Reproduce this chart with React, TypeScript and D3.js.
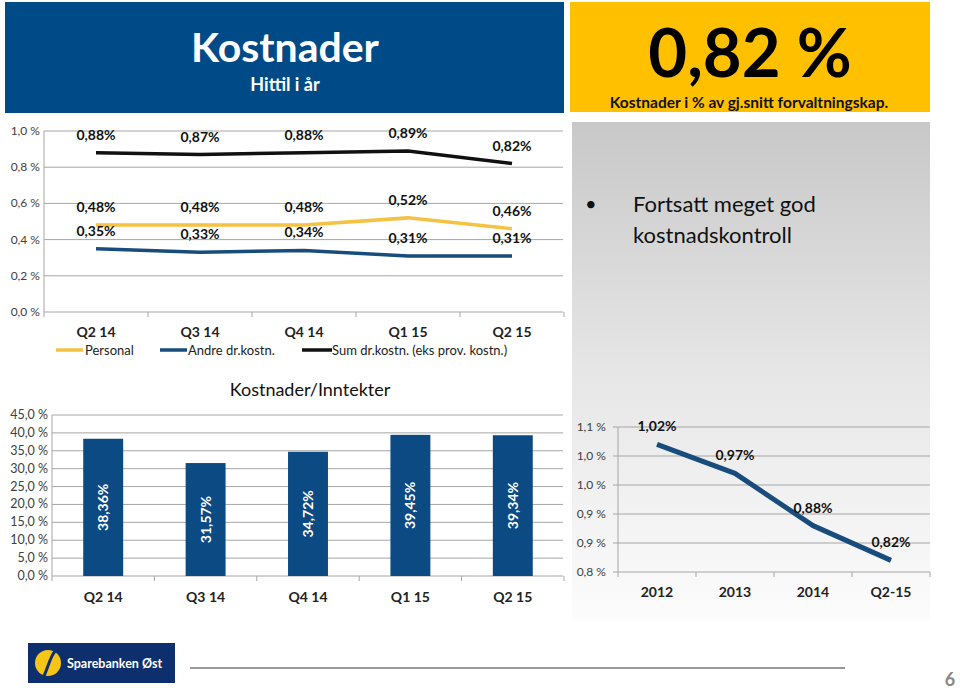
import React from "react";
import * as d3 from "d3";

const quarters = ["Q2 14", "Q3 14", "Q4 14", "Q1 15", "Q2 15"];
const personal = [0.48, 0.48, 0.48, 0.52, 0.46];
const andre = [0.35, 0.33, 0.34, 0.31, 0.31];
const sumKost = [0.88, 0.87, 0.88, 0.89, 0.82];
const topTicks = [0, 0.2, 0.4, 0.6, 0.8, 1.0];

const ratio = [38.36, 31.57, 34.72, 39.45, 39.34];
const barTicks = [0, 5, 10, 15, 20, 25, 30, 35, 40, 45];

const years = ["2012", "2013", "2014", "Q2-15"];
const yearly = [1.02, 0.97, 0.88, 0.82];
const rightTicks = [0.8, 0.85, 0.9, 0.95, 1.0, 1.05];
const rightTickLabels = ["0,8 %", "0,9 %", "0,9 %", "1,0 %", "1,0 %", "1,1 %"];

const FONT = "Lato, 'Open Sans', sans-serif";
const NAVY = "#0b4a82";
const YEL = "#f5c242";
const BLUE = "#174c7c";

const pct2 = (v: number) => v.toFixed(2).replace(".", ",") + "%";
const pct1s = (v: number) => v.toFixed(1).replace(".", ",") + " %";

export default function App() {
  // Top line chart
  const xTop = d3.scaleBand<string>().domain(quarters).range([44, 564]);
  const yTop = d3.scaleLinear().domain([0, 1]).range([312, 131]);
  const cx = (c: string) => (xTop(c) as number) + xTop.bandwidth() / 2;
  const lineTop = (vals: number[]) =>
    d3.line<number>().x((_, i) => cx(quarters[i])).y((v) => yTop(v))(vals) as string;
  const topSeries = [
    { vals: sumKost, color: "#111" },
    { vals: personal, color: YEL },
    { vals: andre, color: BLUE },
  ];

  // Bar chart
  const xBar = d3.scaleBand<string>().domain(quarters).range([52, 564]);
  const yBar = d3.scaleLinear().domain([0, 45]).range([576, 415]);
  const bw = xBar.bandwidth() * 0.39;

  // Right line chart
  const xR = d3.scaleBand<string>().domain(years).range([618, 930]);
  const yR = d3.scaleLinear().domain([0.8, 1.05]).range([572, 427]);
  const cxR = (c: string) => (xR(c) as number) + xR.bandwidth() / 2;
  const lineR = d3
    .line<number>()
    .x((_, i) => cxR(years[i]))
    .y((v) => yR(v))(yearly) as string;

  return (
    <svg width={960} height={691} style={{ position: "absolute", left: 0, top: 0, background: "#fff" }} fontFamily={FONT}>
      <defs>
        <linearGradient id="panel" x1="0" y1="0" x2="0" y2="1">
          <stop offset="0" stopColor="#c8c8c8" />
          <stop offset="0.5" stopColor="#e6e6e6" />
          <stop offset="1" stopColor="#fcfcfc" />
        </linearGradient>
      </defs>

      {/* Header banners */}
      <rect x={5} y={2} width={559} height={111} fill="#004b87" />
      <text x={285} y={62} textAnchor="middle" fill="#fff" fontSize={41} fontWeight="bold">Kostnader</text>
      <text x={285} y={91} textAnchor="middle" fill="#fff" fontSize={18} fontWeight="bold">Hittil i år</text>

      <rect x={570} y={2} width={360} height={110} fill="#ffc000" />
      <text x={750} y={77} textAnchor="middle" fill="#000" fontSize={67} fontWeight="bold">0,82 %</text>
      <text x={749} y={108} textAnchor="middle" fill="#111" fontSize={15.5} fontWeight="bold">Kostnader i % av gj.snitt forvaltningskap.</text>

      {/* Right gray panel */}
      <rect x={572} y={122} width={358} height={498} fill="url(#panel)" />
      <text x={585} y={211} fill="#111" fontSize={20}>•</text>
      <text x={633} y={212} fill="#111" fontSize={22}>Fortsatt meget god</text>
      <text x={633} y={243} fill="#111" fontSize={22}>kostnadskontroll</text>

      {/* Top line chart */}
      <g>
        {topTicks.map((t) => (
          <g key={t}>
            <line x1={44} x2={563} y1={yTop(t)} y2={yTop(t)} stroke="#a6a6a6" strokeWidth={1} />
            <text x={40} y={yTop(t) + 4} textAnchor="end" fontSize={12} fill="#404040">{pct1s(t)}</text>
          </g>
        ))}
        <line x1={44} x2={44} y1={131} y2={312} stroke="#a6a6a6" />
        {[...quarters.map((q) => xTop(q) as number), 564].map((x, i) => (
          <line key={i} x1={x} x2={x} y1={312} y2={317} stroke="#a6a6a6" />
        ))}
        {topSeries.map((s, si) => (
          <path key={si} d={lineTop(s.vals)} fill="none" stroke={s.color} strokeWidth={3.5} />
        ))}
        {topSeries.map((s, si) =>
          s.vals.map((v, i) => (
            <text key={si + "-" + i} x={cx(quarters[i])} y={yTop(v) - 13} textAnchor="middle" fontSize={14} fontWeight="bold" fill="#111">
              {pct2(v)}
            </text>
          ))
        )}
        {quarters.map((q) => (
          <text key={q} x={cx(q)} y={337} textAnchor="middle" fontSize={14} fontWeight="bold" fill="#222">{q}</text>
        ))}
        {/* legend */}
        <line x1={56} x2={83} y1={350} y2={350} stroke={YEL} strokeWidth={3.5} />
        <text x={85} y={355} fontSize={13} fill="#222">Personal</text>
        <line x1={160} x2={187} y1={350} y2={350} stroke={BLUE} strokeWidth={3.5} />
        <text x={188} y={355} fontSize={13} fill="#222">Andre dr.kostn.</text>
        <line x1={302} x2={332} y1={350} y2={350} stroke="#111" strokeWidth={3.5} />
        <text x={332} y={355} fontSize={13} fill="#222">Sum dr.kostn. (eks prov. kostn.)</text>
      </g>

      {/* Bar chart */}
      <g>
        <text x={310} y={396} textAnchor="middle" fontSize={18} fill="#111">Kostnader/Inntekter</text>
        {barTicks.map((t) => (
          <g key={t}>
            <line x1={52} x2={563} y1={yBar(t)} y2={yBar(t)} stroke="#a6a6a6" />
            <text x={48} y={yBar(t) + 4} textAnchor="end" fontSize={12.5} fill="#404040">{pct1s(t)}</text>
          </g>
        ))}
        <line x1={52} x2={52} y1={415} y2={576} stroke="#a6a6a6" />
        {[...quarters.map((q) => xBar(q) as number), 564].map((x, i) => (
          <line key={i} x1={x} x2={x} y1={576} y2={581} stroke="#a6a6a6" />
        ))}
        {ratio.map((v, i) => {
          const c = (xBar(quarters[i]) as number) + xBar.bandwidth() / 2;
          const ym = (yBar(v) + yBar(0)) / 2;
          return (
            <g key={i}>
              <rect x={c - bw / 2} y={yBar(v)} width={bw} height={yBar(0) - yBar(v)} fill={NAVY} />
              <text transform={`translate(${c + 5},${ym}) rotate(-90)`} textAnchor="middle" fontSize={14} fontWeight="bold" fill="#fff">
                {pct2(v)}
              </text>
            </g>
          );
        })}
        {quarters.map((q) => (
          <text key={q} x={(xBar(q) as number) + xBar.bandwidth() / 2} y={602} textAnchor="middle" fontSize={14} fontWeight="bold" fill="#222">{q}</text>
        ))}
      </g>

      {/* Right line chart */}
      <g>
        {rightTicks.map((t, i) => (
          <g key={t}>
            <line x1={613} x2={930} y1={yR(t)} y2={yR(t)} stroke="#a6a6a6" />
            <text x={606} y={yR(t) + 4} textAnchor="end" fontSize={12} fill="#404040">{rightTickLabels[i]}</text>
          </g>
        ))}
        <line x1={618} x2={618} y1={427} y2={572} stroke="#a6a6a6" />
        {[...years.map((y) => xR(y) as number), 930].map((x, i) => (
          <line key={i} x1={x} x2={x} y1={572} y2={577} stroke="#a6a6a6" />
        ))}
        <path d={lineR} fill="none" stroke={BLUE} strokeWidth={5} strokeLinejoin="round" />
        {yearly.map((v, i) => (
          <text key={i} x={cxR(years[i])} y={yR(v) - 13} textAnchor="middle" fontSize={14} fontWeight="bold" fill="#111">{pct2(v)}</text>
        ))}
        {years.map((y) => (
          <text key={y} x={cxR(y)} y={597} textAnchor="middle" fontSize={14} fontWeight="bold" fill="#222">{y}</text>
        ))}
      </g>

      {/* Footer */}
      <rect x={28} y={643} width={147} height={40} fill="#0d2f6e" />
      <circle cx={48} cy={663} r={13} fill="#f7c518" />
      <path d="M44,676 C48,668 50,656 56,650" fill="none" stroke="#0d2f6e" strokeWidth={3} />
      <text x={67} y={668} fontSize={12.5} fontWeight="bold" fill="#fff">Sparebanken Øst</text>
      <line x1={190} x2={845} y1={668} y2={668} stroke="#999" strokeWidth={2} />
      <text x={950} y={686} textAnchor="middle" fontSize={18} fontWeight="bold" fill="#888">6</text>
    </svg>
  );
}
